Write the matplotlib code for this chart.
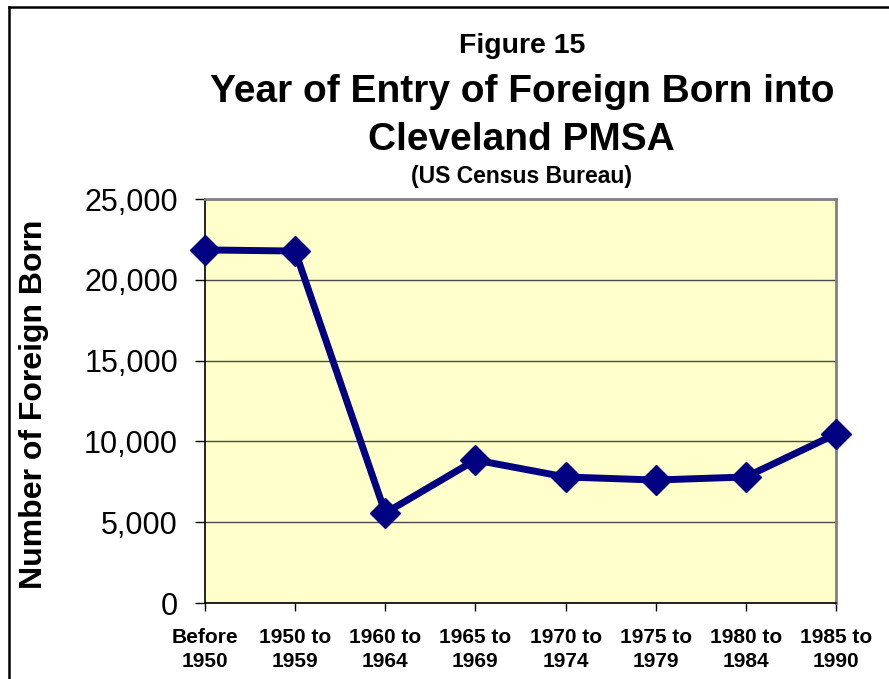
import matplotlib
matplotlib.use("Agg")
import matplotlib.pyplot as plt
from matplotlib.lines import Line2D
from matplotlib.ticker import StrMethodFormatter

# Year of entry periods and counts of foreign born (Cleveland PMSA)
periods = ["Before\n1950", "1950 to\n1959", "1960 to\n1964", "1965 to\n1969",
           "1970 to\n1974", "1975 to\n1979", "1980 to\n1984", "1985 to\n1990"]
foreign_born = [21850, 21780, 5570, 8850, 7800, 7610, 7800, 10460]
y_ticks = [0, 5000, 10000, 15000, 20000, 25000]

plt.rcParams["font.family"] = ["Liberation Sans", "DejaVu Sans"]

fig = plt.figure(figsize=(8.89, 6.79), dpi=100)
ax = fig.add_axes([0.2306, 0.1119, 0.7098, 0.5950])
ax.set_facecolor("#FFFFCC")

x = list(range(len(periods)))
ax.plot(x, foreign_born, color="#000080", linewidth=5, marker="D",
        markersize=15, markerfacecolor="#000080", markeredgecolor="#000080",
        clip_on=False, zorder=5, solid_joinstyle="miter")

ax.set_xlim(0, len(periods) - 1)
ax.set_ylim(0, 25000)
ax.set_yticks(y_ticks)
ax.yaxis.set_major_formatter(StrMethodFormatter("{x:,.0f}"))
ax.set_xticks(x)
ax.set_xticklabels(periods, fontweight="bold", fontsize=15, linespacing=1.3)

ax.grid(axis="y", color="#4a4a4a", linewidth=1)
ax.set_axisbelow(True)

for side in ["left", "bottom"]:
    ax.spines[side].set_color("black")
    ax.spines[side].set_linewidth(1.2)
for side in ["top", "right"]:
    ax.spines[side].set_color("#808080")
    ax.spines[side].set_linewidth(2)

ax.tick_params(axis="y", labelsize=22, length=7.5, width=1, pad=12, direction="out")
ax.tick_params(axis="x", length=6, width=1, pad=12, direction="out")

# titles
cx = 0.587
fig.text(cx, 0.922, "Figure 15", ha="center", va="baseline", fontsize=20.5, fontweight="bold")
fig.text(cx, 0.8498, "Year of Entry of Foreign Born into", ha="center", va="baseline",
         fontsize=28, fontweight="bold")
fig.text(cx, 0.7791, "Cleveland PMSA", ha="center", va="baseline", fontsize=28, fontweight="bold")
fig.text(cx, 0.7305, "(US Census Bureau)", ha="center", va="baseline", fontsize=16.5, fontweight="bold")

fig.text(0.0382, 0.405, "Number of Foreign Born", rotation=90, ha="center", va="center",
         fontsize=23, fontweight="bold")

# outer chart border (left and top edges visible)
fig.add_artist(Line2D([9 / 889, 9 / 889], [0, 1 - 7 / 679], color="black", linewidth=1.8))
fig.add_artist(Line2D([9 / 889, 1], [1 - 7 / 679, 1 - 7 / 679], color="black", linewidth=1.8))

fig.savefig("out.png", dpi=100)
